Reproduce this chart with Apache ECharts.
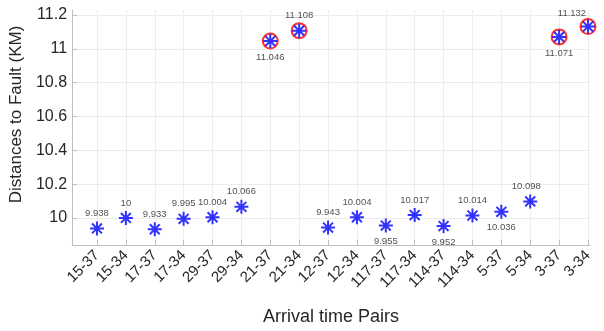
<!DOCTYPE html>
<html>
<head>
<meta charset="utf-8">
<script src="https://cdn.jsdelivr.net/npm/echarts@6/dist/echarts.min.js"></script>
<style>
  html, body { margin: 0; padding: 0; background: #ffffff; }
  #chart { width: 604px; height: 331px; }
</style>
</head>
<body>
<div id="chart"></div>
<script>
// Arrival-time pairs and the fault distance computed from each pair (km)
const pairs = ['15-37', '15-34', '17-37', '17-34', '29-37', '29-34', '21-37', '21-34',
  '12-37', '12-34', '117-37', '117-34', '114-37', '114-34', '5-37', '5-34', '3-37', '3-34'];
const distances = [9.938, 10, 9.933, 9.995, 10.004, 10.066, 11.046, 11.108,
  9.943, 10.004, 9.955, 10.017, 9.952, 10.014, 10.036, 10.098, 11.071, 11.132];
// Pairs whose estimate is an outlier (circled in red)
const outlierPairs = ['21-37', '21-34', '3-37', '3-34'];
const yTicks = [10, 10.2, 10.4, 10.6, 10.8, 11, 11.2];

// Value labels that sit under their marker instead of above it
const labelsBelow = ['21-37', '117-37', '114-37', '5-37', '3-37'];
const labelShift = { '5-34': [-4, 0], '3-34': [-16, 2] };

const xPos = pairs.map((_, i) => i + 1);
const FONT = '"Liberation Sans", Arial, Helvetica, sans-serif';
const TXT = '#262626';
const AXIS = '#bfbfbf';

const starPath = 'path://M0,-1L0,1M-1,0L1,0M-0.707,-0.707L0.707,0.707M-0.707,0.707L0.707,-0.707';

const starData = pairs.map((p, i) => {
  const below = labelsBelow.includes(p);
  return {
    value: [xPos[i], distances[i]],
    label: {
      position: below ? 'bottom' : 'top',
      distance: below ? 3 : 2,
      offset: labelShift[p] || [0, 0]
    }
  };
});
const ringData = pairs
  .map((p, i) => outlierPairs.includes(p) ? [xPos[i], distances[i]] : null)
  .filter(d => d !== null);

const chart = echarts.init(document.getElementById('chart'), null, { renderer: 'canvas' });
chart.setOption({
  animation: false,
  backgroundColor: '#ffffff',
  grid: { left: 71, right: 14, top: 10, bottom: 83, containLabel: false },
  xAxis: {
    type: 'value',
    min: 0.136,
    max: 18.07,
    name: 'Arrival time Pairs',
    nameLocation: 'middle',
    nameGap: 63,
    nameTextStyle: { fontFamily: FONT, fontSize: 18, color: TXT },
    axisLine: { show: true, lineStyle: { color: AXIS, width: 1 } },
    axisTick: { show: true, inside: true, length: 5, customValues: xPos, lineStyle: { color: AXIS } },
    axisLabel: {
      customValues: xPos,
      rotate: 45,
      margin: 8,
      fontFamily: FONT,
      fontSize: 15,
      color: TXT,
      formatter: v => pairs[Math.round(v) - 1] || ''
    },
    splitLine: { show: true, lineStyle: { color: '#ececec', width: 1 } }
  },
  yAxis: {
    type: 'value',
    min: 9.84,
    max: 11.23,
    name: 'Distances to Fault (KM)',
    nameLocation: 'middle',
    nameGap: 37,
    nameTextStyle: { fontFamily: FONT, fontSize: 17, color: TXT, padding: [0, 0, 0, 26] },
    axisLine: { show: true, lineStyle: { color: AXIS, width: 1 } },
    axisTick: { show: true, inside: true, length: 5, customValues: yTicks, lineStyle: { color: AXIS } },
    axisLabel: {
      customValues: yTicks,
      margin: 5,
      fontFamily: FONT,
      fontSize: 16,
      color: TXT,
      formatter: v => String(Math.round(v * 10) / 10)
    },
    splitLine: { show: true, lineStyle: { color: '#ececec', width: 1 } }
  },
  series: [
    {
      name: 'outliers',
      type: 'scatter',
      symbol: 'circle',
      symbolSize: 15,
      z: 2,
      itemStyle: { color: '#ffffff', borderColor: '#ff0000', borderWidth: 2 },
      data: ringData
    },
    {
      name: 'distance',
      type: 'scatter',
      symbol: starPath,
      symbolSize: 14,
      z: 3,
      itemStyle: { color: 'rgba(0,0,0,0)', borderColor: '#0000ff', borderWidth: 2 },
      label: {
        show: true,
        fontFamily: FONT,
        fontSize: 9.5,
        color: '#262626',
        formatter: p => String(p.value[1])
      },
      data: starData
    }
  ]
});
</script>
</body>
</html>
